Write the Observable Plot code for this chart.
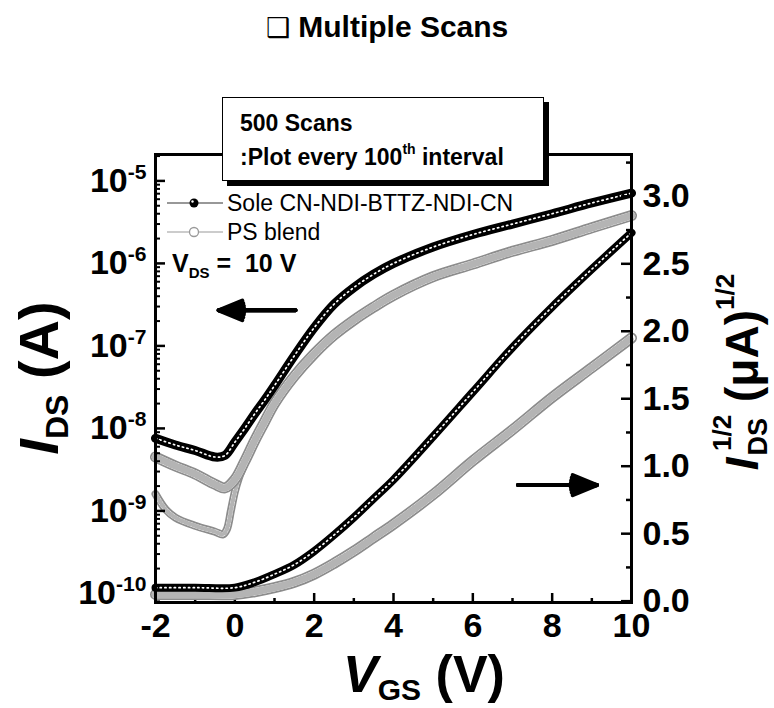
<!DOCTYPE html>
<html><head><meta charset="utf-8">
<script src="https://cdn.jsdelivr.net/npm/d3@7"></script>
<script src="https://cdn.jsdelivr.net/npm/@observablehq/plot@0.6"></script>
<style>
body{margin:0;background:#fff;}
#wrap{position:relative;width:774px;height:708px;overflow:hidden;font-family:"Liberation Sans",Arial,sans-serif;color:#000;}
#wrap svg{position:absolute;left:0;top:0;}
#title{position:absolute;left:0;width:774px;top:8px;text-align:center;font-weight:bold;font-size:30px;line-height:38px;}
#title .sq{font-family:"DejaVu Sans",sans-serif;font-weight:normal;font-size:27px;}
#box{position:absolute;left:222px;top:97px;width:322px;height:84px;box-sizing:border-box;border:1.5px solid #000;background:#fff;box-shadow:5px 5px 0 #000;font-weight:bold;font-size:23px;line-height:34px;padding:8px 0 0 17px;z-index:5;}
#box sup{font-size:14px;vertical-align:top;line-height:14px;position:relative;top:2px;}
</style></head><body><div id="wrap">
<div id="title"><span class="sq">❑</span> Multiple Scans</div>
<div id="box">500 Scans<br>:Plot every 100<sup>th</sup> interval</div>
</div>
<script>
// ---------- data ----------
// Sole CN-NDI-BTTZ-NDI-CN, log I_DS (A)
const soleLogVgs = [-2, -1.5, -1, -0.5, -0.25, 0, 0.25, 0.5, 0.75, 1, 1.5, 2, 2.5, 3, 3.5, 4, 5, 6, 7, 8, 9, 10];
const soleLogIds = [7.6e-9, 6.3e-9, 5.4e-9, 4.5e-9, 4.7e-9, 6.8e-9, 1.0e-8, 1.5e-8, 2.2e-8, 3.3e-8, 7.6e-8, 1.66e-7, 3.2e-7, 5.1e-7, 7.4e-7, 1.0e-6, 1.58e-6, 2.24e-6, 3.0e-6, 4.0e-6, 5.4e-6, 7.1e-6];
// PS blend (scans 2-5), log I_DS (A)
const psLogVgs = [-2, -1.5, -1, -0.5, -0.25, 0, 0.25, 0.5, 0.75, 1, 1.5, 2, 2.5, 3, 3.5, 4, 5, 6, 7, 8, 9, 10];
const psLogIds = [4.5e-9, 3.5e-9, 2.8e-9, 2.1e-9, 1.9e-9, 2.4e-9, 4.0e-9, 7.1e-9, 1.2e-8, 2.0e-8, 4.3e-8, 8.0e-8, 1.35e-7, 2.05e-7, 2.95e-7, 4.1e-7, 6.9e-7, 9.8e-7, 1.4e-6, 1.9e-6, 2.7e-6, 3.8e-6];
// PS blend first scan (off-state branch), log I_DS (A)
const psScan1Vgs = [-2, -1.75, -1.5, -1, -0.5, -0.3, -0.2, -0.1, 0, 0.1, 0.25];
const psScan1Ids = [1.6e-9, 1.05e-9, 8.3e-10, 6.6e-10, 5.6e-10, 5.2e-10, 6.0e-10, 1.0e-9, 1.7e-9, 2.5e-9, 3.8e-9];
// Sole, I_DS^1/2 ((uA)^1/2)
const soleSqrtVgs = [-2, -1, 0, 0.5, 1, 1.5, 2, 2.5, 3, 3.5, 4, 5, 6, 7, 8, 9, 10];
const soleSqrtVal = [0.1, 0.1, 0.1, 0.14, 0.2, 0.27, 0.37, 0.49, 0.62, 0.76, 0.9, 1.22, 1.55, 1.88, 2.18, 2.46, 2.73];
// PS blend, I_DS^1/2 ((uA)^1/2)
const psSqrtVgs = [-2, -1, 0, 0.5, 1, 1.5, 2, 2.5, 3, 3.5, 4, 5, 6, 7, 8, 9, 10];
const psSqrtVal = [0.05, 0.05, 0.05, 0.07, 0.1, 0.14, 0.2, 0.28, 0.37, 0.47, 0.57, 0.79, 1.04, 1.27, 1.51, 1.73, 1.95];
// annotation arrows (data units)
const leftArrow = [{x1: 1.53, x2: -0.41, y: 2.7e-7}];
const rightArrow = [{x1: 7.14, x2: 9.13, y: 0.86}];
// ticks
const xMajor = [-2, 0, 2, 4, 6, 8, 10];
const xMinor = [-1, 1, 3, 5, 7, 9];
const logMajor = [1e-10, 1e-9, 1e-8, 1e-7, 1e-6, 1e-5];
const rMajor = [0, 0.5, 1, 1.5, 2, 2.5, 3];
const rMinor = [0.25, 0.75, 1.25, 1.75, 2.25, 2.75, 3.25];

const logMinor = [];
for (let e = -11; e <= -5; e++) for (let k = 2; k <= 9; k++) logMinor.push(k * Math.pow(10, e));

const toRows = (xs, ys) => xs.map((x, i) => ({x, y: ys[i]}));
const sole = toRows(soleLogVgs, soleLogIds);
const ps = toRows(psLogVgs, psLogIds);
const ps1 = toRows(psScan1Vgs, psScan1Ids);
const soleS = toRows(soleSqrtVgs, soleSqrtVal);
const psS = toRows(psSqrtVgs, psSqrtVal);

const W = 774, H = 708, ML = 155, MR = 143, MT = 154, MB = 106;
const FW = W - ML - MR, FH = H - MT - MB;
const yLogDomain = [Math.pow(10, -10.11), Math.pow(10, -4.68)];
const yLin = [-0.01, 3.31];
const common = {width: W, height: H, marginLeft: ML, marginRight: MR, marginTop: MT, marginBottom: MB,
  style: {background: "none", fontFamily: "'Liberation Sans', Arial, sans-serif", color: "black", overflow: "visible"}};
const curve = "catmull-rom";

function blackBand(data, w) {
  return [
    Plot.line(data, {x: "x", y: "y", stroke: "black", strokeWidth: w, curve}),
    Plot.line(data, {x: "x", y: "y", stroke: "white", strokeWidth: 1.7, strokeDasharray: "1.3,3.4", curve})
  ];
}
function greyBand(data, w) {
  return [
    Plot.line(data, {x: "x", y: "y", stroke: "#8c8c8c", strokeWidth: w, curve}),
    Plot.line(data, {x: "x", y: "y", stroke: "white", strokeWidth: w - 3.5, curve}),
    Plot.line(data, {x: "x", y: "y", stroke: "#b4b4b4", strokeWidth: w - 3.5, strokeDasharray: "1,3.2", curve})
  ];
}
// solid-looking arrow: several heads of decreasing angle fill the head
function solidArrow(data) {
  return [45, 32, 20, 9].map(a => Plot.arrow(data, {x1: "x1", x2: "x2", y1: "y", y2: "y", stroke: "black", strokeWidth: 4, headLength: 13, headAngle: a}));
}

const p1 = Plot.plot({...common,
  x: {domain: [-2, 10]},
  y: {type: "log", domain: yLogDomain},
  marks: [
    ...greyBand(ps1, 8),
    ...greyBand(ps, 11),
    ...blackBand(sole, 9),
    ...solidArrow(leftArrow),
    Plot.tickX(xMajor, {x: d => d, insetTop: FH - 9, stroke: "black", strokeWidth: 2.5}),
    Plot.tickX(xMinor, {x: d => d, insetTop: FH - 4, stroke: "black", strokeWidth: 2.5}),
    Plot.tickY(logMajor, {y: d => d, insetRight: FW - 10, stroke: "black", strokeWidth: 2.5}),
    Plot.tickY(logMinor.filter(v => v >= yLogDomain[0] && v <= yLogDomain[1]), {y: d => d, insetRight: FW - 5, stroke: "black", strokeWidth: 2}),
    Plot.axisX({ticks: xMajor, tickSize: 0, tickPadding: 10, tickFormat: d => String(d), fontSize: 34, fontWeight: "bold", fill: "black", label: null}),
    Plot.axisY({ticks: logMajor, tickSize: 0, tickPadding: 9, tickFormat: d => "10^" + Math.round(Math.log10(d)), fontSize: 34, fontWeight: "bold", fill: "black", label: null})
  ]
});

const p2 = Plot.plot({...common,
  x: {domain: [-2, 10], axis: null},
  y: {domain: yLin},
  marks: [
    ...greyBand(psS, 11),
    ...blackBand(soleS, 8),
    ...solidArrow(rightArrow),
    Plot.tickY(rMajor, {y: d => d, insetLeft: FW - 10, stroke: "black", strokeWidth: 2.5}),
    Plot.tickY(rMinor, {y: d => d, insetLeft: FW - 5, stroke: "black", strokeWidth: 2.5}),
    Plot.axisY({anchor: "right", ticks: rMajor, tickSize: 0, tickPadding: 11, tickFormat: d => d.toFixed(1), fontSize: 34, fontWeight: "bold", fill: "black", label: null}),
    Plot.frame({stroke: "black", strokeWidth: 3})
  ]
});

const wrap = document.getElementById("wrap");
wrap.insertBefore(p1, wrap.firstChild);
wrap.insertBefore(p2, p1.nextSibling);

// superscript exponents on the log axis labels
d3.select(p1).selectAll('[aria-label="y-axis tick label"] text').each(function () {
  const parts = this.textContent.split("^");
  const t = d3.select(this);
  t.text(null);
  t.append("tspan").text(parts[0]);
  t.append("tspan").attr("dy", "-0.62em").attr("font-size", "0.62em").text(parts[1]);
});

// axis titles, legend
const s2 = d3.select(p2);
const g = s2.append("g").attr("fill", "black").attr("font-family", "'Liberation Sans', Arial, sans-serif");
// x title
const xt = g.append("text").attr("x", 424).attr("y", 692).attr("text-anchor", "middle").attr("font-size", 52).attr("font-weight", "bold");
xt.append("tspan").attr("font-style", "italic").text("V");
xt.append("tspan").attr("font-size", 30).attr("dy", 8).text("GS");
xt.append("tspan").attr("dy", -8).text(" (V)");
// left title
const lt = g.append("text").attr("transform", "translate(58,378) rotate(-90)").attr("text-anchor", "middle").attr("font-size", 56).attr("font-weight", "bold");
lt.append("tspan").attr("font-style", "italic").text("I");
lt.append("tspan").attr("font-size", 32).attr("dy", 10).text("DS");
lt.append("tspan").attr("dy", -10).text(" (A)");
// right title
const rt = g.append("text").attr("transform", "translate(758,372) rotate(-90)").attr("text-anchor", "middle").attr("font-size", 46).attr("font-weight", "bold");
rt.append("tspan").attr("font-style", "italic").text("I");
rt.append("tspan").attr("font-size", 27).attr("dy", 9).attr("dx", 2).text("DS");
rt.append("tspan").attr("font-size", 26).attr("dy", -36).attr("dx", -33).text("1/2");
rt.append("tspan").attr("dy", 27).text(" (μA)");
rt.append("tspan").attr("font-size", 26).attr("dy", -24).text("1/2");
// legend
const lg = g.append("g").attr("text-anchor", "start");
lg.append("line").attr("x1", 167).attr("x2", 223).attr("y1", 203).attr("y2", 203).attr("stroke", "#333").attr("stroke-width", 1.2);
lg.append("circle").attr("cx", 194).attr("cy", 203).attr("r", 4.5).attr("fill", "black");
lg.append("circle").attr("cx", 192.5).attr("cy", 201.5).attr("r", 1.2).attr("fill", "white");
lg.append("text").attr("x", 227).attr("y", 211).attr("font-size", 23).text("Sole CN-NDI-BTTZ-NDI-CN");
lg.append("line").attr("x1", 167).attr("x2", 223).attr("y1", 232).attr("y2", 232).attr("stroke", "#999").attr("stroke-width", 1.2);
lg.append("circle").attr("cx", 194).attr("cy", 232).attr("r", 4.5).attr("fill", "white").attr("stroke", "#999").attr("stroke-width", 1.3);
lg.append("text").attr("x", 227).attr("y", 240).attr("font-size", 23).text("PS blend");
const vt = lg.append("text").attr("x", 172).attr("y", 272).attr("font-size", 25).attr("font-weight", "bold");
vt.append("tspan").text("V");
vt.append("tspan").attr("font-size", 15).attr("dy", 6).text("DS");
vt.append("tspan").attr("dy", -6).text(" =  10 V");
</script></body></html>
